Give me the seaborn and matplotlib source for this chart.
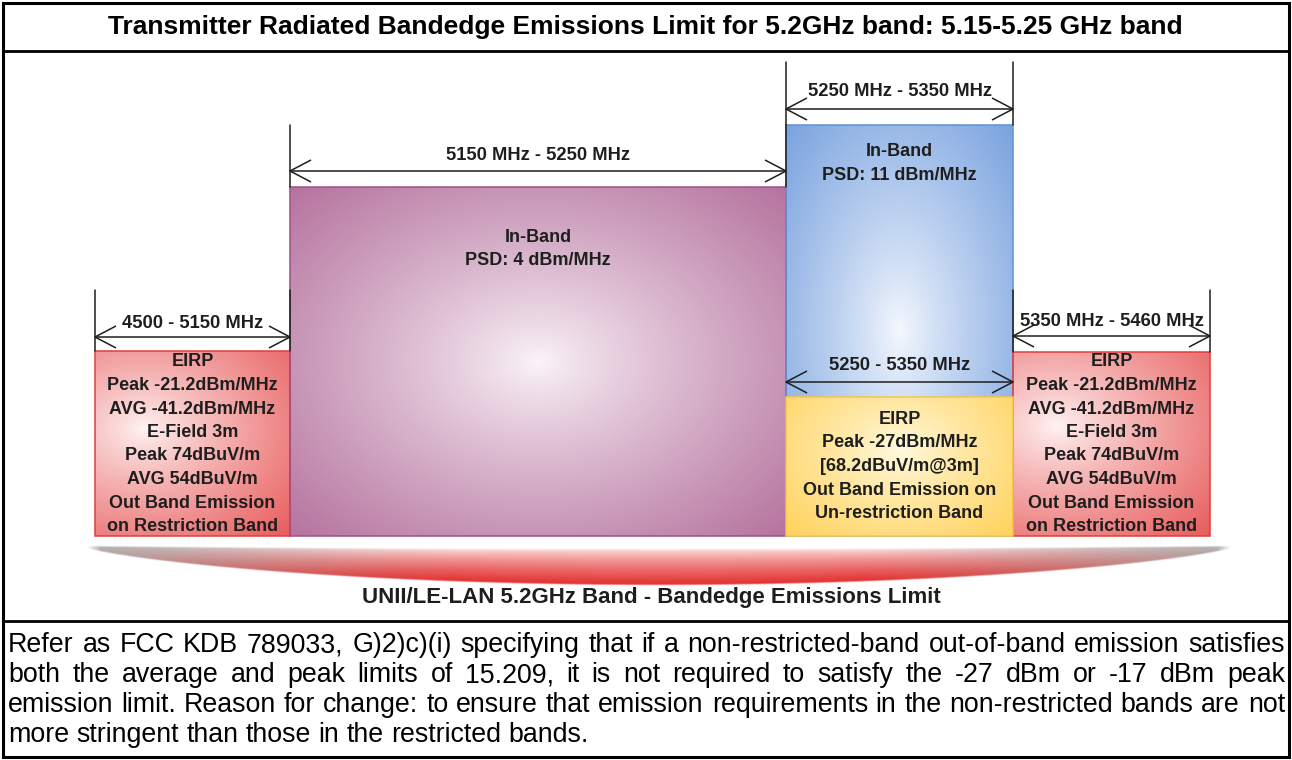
import numpy as np
import matplotlib
matplotlib.use("Agg")
import matplotlib.pyplot as plt
import seaborn as sns
from matplotlib.patches import Rectangle

# ------------------------------------------------------------------ data
title = "Transmitter Radiated Bandedge Emissions Limit for 5.2GHz band: 5.15-5.25 GHz band"
band_ranges = ["4500 - 5150 MHz", "5150 MHz - 5250 MHz", "5250 MHz - 5350 MHz", "5350 MHz - 5460 MHz"]
band_kinds = ["restricted", "inband_low", "inband_high", "restricted"]
restricted_text = ["EIRP", "Peak -21.2dBm/MHz", "AVG -41.2dBm/MHz", "E-Field 3m",
                   "Peak 74dBuV/m", "AVG 54dBuV/m", "Out Band Emission", "on Restriction Band"]
inband_low_text = ["In-Band", "PSD: 4 dBm/MHz"]
inband_high_text = ["In-Band", "PSD: 11 dBm/MHz"]
band_texts = [restricted_text, inband_low_text, inband_high_text, restricted_text]
sub_range = "5250 - 5350 MHz"
sub_text = ["EIRP", "Peak -27dBm/MHz", "[68.2dBuV/m@3m]", "Out Band Emission on", "Un-restriction Band"]
footer_label = "UNII/LE-LAN 5.2GHz Band - Bandedge Emissions Limit"
note_lines = [
    "Refer as FCC KDB 789033, G)2)c)(i) specifying that if a non-restricted-band out-of-band emission satisfies",
    "both the average and peak limits of 15.209, it is not required to satisfy the -27 dBm or -17 dBm peak",
    "emission limit. Reason for change: to ensure that emission requirements in the non-restricted bands are not",
    "more stringent than those in the restricted bands.",
]

# ------------------------------------------------------------------ layout / style (pixels)
W_PX, H_PX = 1292, 760
box_x = [(95, 290), (290, 786), (786, 1013), (1013, 1210)]
box_top = [351, 187, 125, 352]
box_bottom = 536
arrow_y = [337, 171, 109, 336]
label_y = [323, 155, 92, 321]
ext_top = [290, 125, 62, 290]
text_first_y = [362, 237, 152, 362]
text_step = 23.5
grad_center = [(0.25, 0.42), (0.5, 0.5), (0.5, 0.5), (0.22, 0.40)]
sub_box = (786, 1013, 397, 536)
sub_arrow_y, sub_label_y = 382, 366
sub_text_y0 = 419

styles = {
    "restricted": dict(edge=(232, 92, 92), center=(255, 244, 244), border=(226, 62, 62)),
    "inband_low": dict(edge=(181, 115, 158), center=(251, 245, 249), border=(160, 78, 136)),
    "inband_high": dict(edge=(122, 163, 223), center=(246, 249, 254), border=(95, 145, 215)),
    "yellow": dict(edge=(255, 210, 92), center=(255, 250, 225), border=(248, 198, 70)),
}
INK = "#1e1e1e"

sns.set_theme(style="white")
plt.rcParams["font.family"] = ["Liberation Sans", "DejaVu Sans"]

fig = plt.figure(figsize=(W_PX / 100, H_PX / 100), dpi=100)
ax = fig.add_axes([0, 0, 1, 1])
ax.set_xlim(0, W_PX)
ax.set_ylim(H_PX, 0)
ax.axis("off")
renderer = fig.canvas.get_renderer()


def text_width(s, size, weight):
    t = ax.text(0, 0, s, fontsize=size, fontweight=weight)
    w = t.get_window_extent(renderer).width
    t.remove()
    return w


def fit(s, target, weight):
    return 10.0 * target / text_width(s, 10, weight)


def radial_box(x0, x1, y0, y1, st, cfrac, z):
    w, h = int(x1 - x0), int(y1 - y0)
    xs = np.linspace(0, 1, w)[None, :]
    ys = np.linspace(0, 1, h)[:, None]
    cx, cy = cfrac
    rx = max(cx, 1 - cx)
    ry = max(cy, 1 - cy)
    d = np.sqrt(((xs - cx) / rx) ** 2 + ((ys - cy) / ry) ** 2) / np.sqrt(2)
    d = np.clip(d, 0, 1) ** 0.85
    c0 = np.array(st["center"]) / 255.0
    c1 = np.array(st["edge"]) / 255.0
    img = c0[None, None, :] + (c1 - c0)[None, None, :] * d[..., None]
    ax.imshow(img, extent=(x0, x1, y1, y0), origin="upper", aspect="auto",
              zorder=z, interpolation="bilinear")
    ax.add_patch(Rectangle((x0, y0), x1 - x0, y1 - y0, fill=False,
                           edgecolor=np.array(st["border"]) / 255.0, lw=1.1, zorder=z + 0.1))


def dim_arrow(x0, x1, y, z=5):
    kw = dict(color=INK, lw=1.1, solid_capstyle="butt", zorder=z)
    ax.plot([x0, x1], [y, y], **kw)
    hl, hw = 21, 11
    ax.plot([x0 + hl, x0, x0 + hl], [y - hw, y, y + hw], **kw)
    ax.plot([x1 - hl, x1, x1 - hl], [y - hw, y, y + hw], **kw)


# font sizes fitted to the reference widths
title_size = fit(title, 1075, "bold")
label_size = fit(band_ranges[1], 183, "bold")
box_size = fit(restricted_text[1], 170, "bold")
footer_size = fit(footer_label, 578, "bold")
note_size = fit(note_lines[3], 584, "normal")

# ------------------------------------------------------------------ bands
for i, kind in enumerate(band_kinds):
    x0, x1 = box_x[i]
    radial_box(x0, x1, box_top[i], box_bottom, styles[kind], grad_center[i], z=1 + i * 0.01)
    ax.plot([x0, x0], [ext_top[i], box_top[i]], color=INK, lw=1.1, zorder=4)
    ax.plot([x1, x1], [ext_top[i], box_top[i]], color=INK, lw=1.1, zorder=4)
    dim_arrow(x0, x1, arrow_y[i])
    xc = (x0 + x1) / 2
    ax.text(xc, label_y[i], band_ranges[i], ha="center", va="center",
            fontsize=label_size, fontweight="bold", color=INK, zorder=6)
    for j, line in enumerate(band_texts[i]):
        ax.text(xc, text_first_y[i] + j * text_step, line, ha="center", va="center",
                fontsize=box_size, fontweight="bold", color=INK, zorder=6)

# sub band (un-restricted out-of-band) inside the 5250-5350 region
sx0, sx1, sy0, sy1 = sub_box
radial_box(sx0, sx1, sy0, sy1, styles["yellow"], (0.5, 0.38), z=2)
dim_arrow(sx0, sx1, sub_arrow_y)
ax.text((sx0 + sx1) / 2, sub_label_y, sub_range, ha="center", va="center",
        fontsize=label_size, fontweight="bold", color=INK, zorder=6)
for j, line in enumerate(sub_text):
    ax.text((sx0 + sx1) / 2, sub_text_y0 + j * 23.7, line, ha="center", va="center",
            fontsize=box_size, fontweight="bold", color=INK, zorder=6)

# ------------------------------------------------------------------ swoosh
sw_x0, sw_x1, sw_y0, sw_y1 = 86, 1232, 540, 592
nx, ny = 1146, 104
X, Y = np.meshgrid(np.linspace(sw_x0, sw_x1, nx), np.linspace(sw_y0, sw_y1, ny))
xc = (sw_x0 + sw_x1) / 2
hw = (sw_x1 - sw_x0) / 2
t = (X - xc) / hw
ytop = 546 + 3 * (1 - t ** 2)
ybot = 547 + 38 * np.clip(1 - t ** 2, 0, 1) ** 0.75
f = np.clip((Y - ytop) / (ybot - ytop + 1e-6), 0, 1)
pink = np.array([255, 232, 232]) / 255.0
red = np.array([226, 48, 48]) / 255.0
col = pink + (red - pink) * (f[..., None] ** 0.7)
g = np.clip((np.abs(t) - 0.35) / 0.65, 0, 1) ** 1.3
gray = np.array([178, 178, 178]) / 255.0
col = col * (1 - g[..., None]) + gray * g[..., None]
alpha = np.clip(np.minimum(Y - ytop, ybot - Y) / 1.5 + 0.5, 0, 1)
alpha *= np.clip((1 - np.abs(t)) * 40, 0, 1)
img = np.dstack([col, alpha])
ax.imshow(img, extent=(sw_x0, sw_x1, sw_y1, sw_y0), origin="upper", aspect="auto",
          zorder=1, interpolation="bilinear")
ax.text(651, 597, footer_label, ha="center", va="center", fontsize=footer_size,
        fontweight="bold", color=INK, zorder=6)

# ------------------------------------------------------------------ frame and title
ax.add_patch(Rectangle((3, 3), W_PX - 6, H_PX - 6, fill=False, edgecolor="black",
                       lw=2.2, zorder=10))
ax.plot([3, W_PX - 3], [51, 51], color="black", lw=2.0, zorder=10)
ax.plot([3, W_PX - 3], [621, 621], color="black", lw=2.0, zorder=10)
ax.text(645.5, 27, title, ha="center", va="center", fontsize=title_size,
        fontweight="bold", color="black", zorder=6)

# ------------------------------------------------------------------ justified note
left, right = 8, 1285
line_y0, line_step = 645, 30
space_w = text_width("a a", note_size, "normal") - text_width("aa", note_size, "normal")
for k, line in enumerate(note_lines):
    words = line.split(" ")
    widths = [text_width(w, note_size, "normal") for w in words]
    y = line_y0 + k * line_step
    if k < len(note_lines) - 1 and len(words) > 1:
        gap = (right - left - sum(widths)) / (len(words) - 1)
    else:
        gap = space_w
    x = left
    for w, wd in zip(words, widths):
        ax.text(x, y, w, ha="left", va="center", fontsize=note_size,
                color="black", zorder=6)
        x += wd + gap

fig.savefig("out.png", dpi=100, facecolor="white")
